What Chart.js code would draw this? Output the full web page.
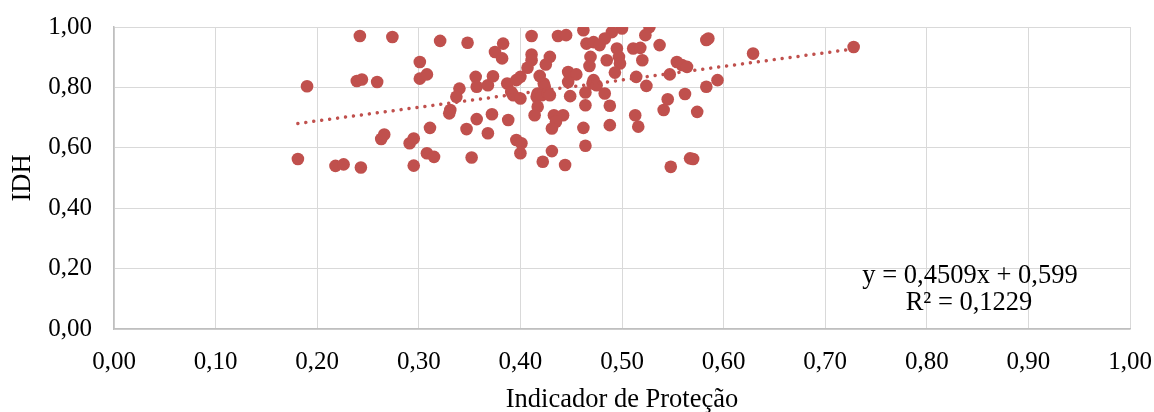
<!DOCTYPE html>
<html>
<head>
<meta charset="utf-8">
<script src="https://cdn.jsdelivr.net/npm/chart.js@4/dist/chart.umd.min.js"></script>
<style>
  html, body { margin: 0; padding: 0; background: #fff; }
  #wrap { width: 1154px; height: 412px; position: relative; }
</style>
</head>
<body>
<div id="wrap"><canvas id="grafico"></canvas></div>
<script>
// Indicador de Proteção (x) e IDH (y)
const indicador = [
  0.190, 0.242, 0.274, 0.239, 0.244, 0.259, 0.301, 0.301, 0.263, 0.266,
  0.291, 0.295, 0.181, 0.218, 0.226, 0.243, 0.295, 0.321, 0.348, 0.383,
  0.375, 0.382, 0.308, 0.356, 0.357, 0.368, 0.373, 0.387, 0.340, 0.337,
  0.331, 0.330, 0.311, 0.357, 0.372, 0.347, 0.368, 0.388, 0.308, 0.315,
  0.352, 0.411, 0.437, 0.445, 0.462, 0.465, 0.472, 0.411, 0.411, 0.429,
  0.425, 0.407, 0.469, 0.468, 0.400, 0.396, 0.391, 0.393, 0.400, 0.419,
  0.423, 0.424, 0.417, 0.416, 0.421, 0.427, 0.429, 0.447, 0.455, 0.447,
  0.449, 0.464, 0.471, 0.464, 0.417, 0.414, 0.433, 0.442, 0.435, 0.431,
  0.462, 0.396, 0.401, 0.400, 0.431, 0.464, 0.422, 0.444, 0.527, 0.523,
  0.500, 0.490, 0.483, 0.478, 0.495, 0.497, 0.511, 0.518, 0.537, 0.485,
  0.498, 0.520, 0.493, 0.554, 0.559, 0.564, 0.514, 0.524, 0.547, 0.472,
  0.475, 0.483, 0.488, 0.488, 0.513, 0.516, 0.545, 0.541, 0.562, 0.548,
  0.567, 0.583, 0.585, 0.629, 0.728, 0.594, 0.583, 0.574, 0.570
];
const idh = [
  0.804, 0.970, 0.967, 0.821, 0.826, 0.818, 0.884, 0.829, 0.629, 0.644,
  0.615, 0.631, 0.563, 0.540, 0.545, 0.535, 0.541, 0.954, 0.948, 0.945,
  0.917, 0.896, 0.843, 0.835, 0.802, 0.807, 0.837, 0.813, 0.796, 0.769,
  0.725, 0.714, 0.666, 0.695, 0.711, 0.662, 0.648, 0.692, 0.582, 0.570,
  0.568, 0.970, 0.970, 0.973, 0.989, 0.945, 0.950, 0.909, 0.890, 0.901,
  0.876, 0.865, 0.901, 0.871, 0.835, 0.824, 0.785, 0.774, 0.763, 0.838,
  0.813, 0.802, 0.780, 0.769, 0.774, 0.780, 0.774, 0.851, 0.843, 0.818,
  0.771, 0.783, 0.813, 0.741, 0.736, 0.708, 0.708, 0.708, 0.686, 0.664,
  0.666, 0.626, 0.615, 0.582, 0.589, 0.607, 0.554, 0.543, 1.000, 0.973,
  0.995, 0.983, 0.962, 0.940, 0.929, 0.901, 0.929, 0.931, 0.940, 0.890,
  0.879, 0.890, 0.849, 0.884, 0.874, 0.868, 0.835, 0.805, 0.843, 0.824,
  0.807, 0.780, 0.739, 0.675, 0.708, 0.670, 0.761, 0.725, 0.778, 0.537,
  0.565, 0.957, 0.962, 0.912, 0.934, 0.824, 0.802, 0.719, 0.563
];

// Linha de tendência (regressão linear mostrada no gráfico)
const tendInclinacao = 0.4509;
const tendIntercepto = 0.599;
const textoEquacao = ['y = 0,4509x + 0,599', 'R² = 0,1229'];

const COR = '#C0504D';
const FONTE = '"Liberation Serif", "Times New Roman", serif';

function formatarTick(v) {
  return v.toFixed(2).replace('.', ',');
}

const pontos = indicador.map((x, i) => ({ x: x, y: idh[i] }));
const xMin = Math.min(...indicador);
const xMax = Math.max(...indicador);
const tendencia = [xMin, xMax].map(x => ({ x: x, y: tendIntercepto + tendInclinacao * x }));

// Escreve a equação da tendência dentro da área do gráfico
const pluginEquacao = {
  id: 'equacao',
  afterDatasetsDraw(chart) {
    const ctx = chart.ctx;
    ctx.save();
    ctx.fillStyle = '#000';
    ctx.font = '26.5px ' + FONTE;
    ctx.textAlign = 'center';
    ctx.textBaseline = 'alphabetic';
    ctx.fillText(textoEquacao[0], 970, 283);
    ctx.fillText(textoEquacao[1], 969, 310);
    ctx.restore();
  }
};

const ctx = document.getElementById('grafico').getContext('2d');
new Chart(ctx, {
  type: 'scatter',
  data: {
    datasets: [
      {
        label: 'IDH',
        data: pontos,
        backgroundColor: COR,
        borderColor: COR,
        borderWidth: 0,
        pointRadius: 6.3,
        pointHoverRadius: 6.3,
        order: 2
      },
      {
        label: 'Tendência',
        type: 'line',
        data: tendencia,
        borderColor: COR,
        borderWidth: 3.5,
        borderDash: [0.01, 8],
        borderCapStyle: 'round',
        pointRadius: 0,
        fill: false,
        order: 1
      }
    ]
  },
  options: {
    responsive: true,
    maintainAspectRatio: false,
    animation: false,
    layout: { padding: { top: 27, right: 24, left: 0, bottom: 0 } },
    plugins: {
      legend: { display: false },
      tooltip: { enabled: false }
    },
    scales: {
      x: {
        type: 'linear',
        min: 0,
        max: 1,
        afterFit(scale) {
          scale.height = 83;
          scale.paddingLeft = 0;
          scale.paddingRight = 0;
        },
        ticks: {
          stepSize: 0.1,
          padding: 18,
          color: '#000',
          font: { family: FONTE, size: 25 },
          maxRotation: 0,
          callback: v => formatarTick(v)
        },
        grid: { color: '#D9D9D9', lineWidth: 1, drawTicks: false },
        border: { color: '#BFBFBF', width: 1.5 },
        title: {
          display: true,
          text: 'Indicador de Proteção',
          color: '#000',
          font: { family: FONTE, size: 26.5 },
          padding: { top: 0, bottom: -4 }
        }
      },
      y: {
        min: 0,
        max: 1,
        afterFit(scale) {
          scale.width = 114;
          scale.paddingTop = 0;
          scale.paddingBottom = 0;
        },
        ticks: {
          stepSize: 0.2,
          padding: 22,
          color: '#000',
          font: { family: FONTE, size: 25 },
          callback: v => formatarTick(v)
        },
        grid: { color: '#D9D9D9', lineWidth: 1, drawTicks: false },
        border: { color: '#BFBFBF', width: 1.5 },
        title: {
          display: true,
          text: 'IDH',
          color: '#000',
          font: { family: FONTE, size: 26.5 },
          padding: { top: 7, bottom: 0 }
        }
      }
    }
  },
  plugins: [pluginEquacao]
});
</script>
</body>
</html>
